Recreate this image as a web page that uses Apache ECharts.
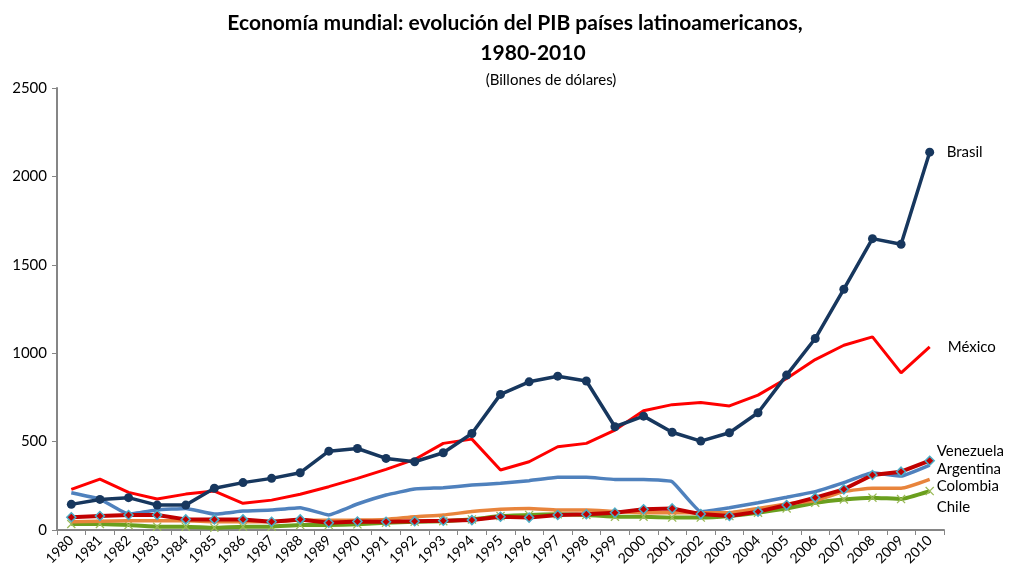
<!DOCTYPE html>
<html>
<head>
<meta charset="utf-8">
<script src="https://cdn.jsdelivr.net/npm/echarts@6/dist/echarts.min.js"></script>
<style>
  html, body { margin: 0; padding: 0; background: #fff; }
  #chart { width: 1016px; height: 580px; }
</style>
</head>
<body>
<div id="chart"></div>
<script>
// años
var years = ["1980","1981","1982","1983","1984","1985","1986","1987","1988","1989",
  "1990","1991","1992","1993","1994","1995","1996","1997","1998","1999",
  "2000","2001","2002","2003","2004","2005","2006","2007","2008","2009","2010"];

// PIB en billones de dólares
var brasil = [145,173,183,141,141,236,268,292,324,446,
  461,405,386,437,546,767,838,870,843,584,
  644,553,503,550,663,876,1083,1362,1648,1616,2137];
var mexico = [230,288,213,175,203,220,151,169,202,245,
  292,343,399,490,514,339,386,471,490,565,
  674,709,721,702,763,857,964,1045,1092,889,1036];
var argentina = [211,175,90,113,122,90,107,113,126,85,
  147,198,232,239,254,264,279,298,298,286,
  286,273,103,126,154,185,217,268,324,305,367];
var venezuela = [72,79,85,85,60,60,60,47,60,41,
  48,47,50,52,56,75,70,85,89,98,
  117,122,90,79,104,141,183,230,311,330,392];
var colombia = [47,50,52,52,52,47,47,47,56,55,
  56,60,75,85,104,117,122,113,113,104,
  98,98,98,98,122,147,166,217,236,236,286];
var chile = [34,34,28,19,19,13,19,19,28,28,
  32,41,47,50,60,79,85,89,85,75,
  75,70,70,79,98,122,154,173,183,175,220];

var chart = echarts.init(document.getElementById("chart"));
var font = "Lato";
var xMark = "path://M0,1L1,0L5,4L9,0L10,1L6,5L10,9L9,10L5,6L1,10L0,9L4,5Z";

function endLbl(text, dx, dy) {
  return {
    show: true,
    formatter: text,
    offset: [dx, dy],
    color: "#000",
    fontFamily: font,
    fontSize: 15,
  };
}

var titleStyle = {
  fontFamily: font,
  fontWeight: "bold",
  fontSize: 21,
  color: "#000",
};

chart.setOption({
  animation: false,
  title: [
    {
      text: "Economía mundial: evolución del PIB países latinoamericanos,",
      left: 510,
      textAlign: "center",
      top: 8,
      textStyle: titleStyle,
    },
    {
      text: "1980-2010",
      left: 528,
      textAlign: "center",
      top: 38,
      textStyle: titleStyle,
    },
    {
      text: "(Billones de dólares)",
      left: 546,
      textAlign: "center",
      top: 68,
      textStyle: {
        fontFamily: font,
        fontWeight: "normal",
        fontSize: 15,
        color: "#000",
      },
    },
  ],
  grid: {
    left: 57,
    right: 72,
    top: 88,
    bottom: 50,
  },
  xAxis: {
    type: "category",
    data: years,
    boundaryGap: true,
    axisLine: { lineStyle: { color: "#868686", width: 2 } },
    axisTick: { show: true, length: 5, lineStyle: { color: "#868686" } },
    axisLabel: {
      rotate: 45,
      interval: 0,
      color: "#000",
      fontFamily: font,
      fontSize: 14,
      margin: 8,
    },
    splitLine: { show: false },
  },
  yAxis: {
    type: "value",
    min: 0,
    max: 2500,
    interval: 500,
    axisLine: { show: true, lineStyle: { color: "#868686", width: 2 } },
    axisTick: { show: true, length: 5, lineStyle: { color: "#868686" } },
    axisLabel: {
      color: "#000",
      fontFamily: font,
      fontSize: 15,
      margin: 10,
      formatter: function (v) {
        return String(v);
      },
    },
    splitLine: { show: false },
  },
  series: [
    {
      name: "Argentina",
      type: "line",
      data: argentina,
      smooth: 0.1,
      symbol: "none",
      lineStyle: { color: "#4F81BD", width: 3.5 },
      itemStyle: { color: "#4F81BD" },
      endLabel: endLbl("Argentina", -1, 4),
      z: 2,
    },
    {
      name: "Chile",
      type: "line",
      data: chile,
      smooth: 0.1,
      symbol: xMark,
      symbolSize: 9,
      lineStyle: { color: "#6A9F1E", width: 4 },
      itemStyle: { color: "#9BBB59" },
      endLabel: endLbl("Chile", -1, 16),
      z: 3,
    },
    {
      name: "Colombia",
      type: "line",
      data: colombia,
      smooth: 0.15,
      symbol: "none",
      lineStyle: { color: "#E8843C", width: 3.5 },
      itemStyle: { color: "#E8843C" },
      endLabel: endLbl("Colombia", -1, 7),
      z: 4,
    },
    {
      name: "Venezuela",
      type: "line",
      data: venezuela,
      symbol: "diamond",
      symbolSize: 9,
      lineStyle: { color: "#C00000", width: 4 },
      itemStyle: { color: "#C00000", borderColor: "#4BACC6", borderWidth: 1.5 },
      endLabel: endLbl("Venezuela", -1, -10),
      z: 5,
    },
    {
      name: "México",
      type: "line",
      data: mexico,
      symbol: "none",
      lineStyle: { color: "#FF0000", width: 3 },
      itemStyle: { color: "#FF0000" },
      endLabel: endLbl("México", 10, 0),
      z: 6,
    },
    {
      name: "Brasil",
      type: "line",
      data: brasil,
      symbol: "circle",
      symbolSize: 9,
      lineStyle: { color: "#17375E", width: 3.5 },
      itemStyle: { color: "#17375E" },
      endLabel: endLbl("Brasil", 9, 0),
      z: 7,
    },
  ],
});
</script>
</body>
</html>
